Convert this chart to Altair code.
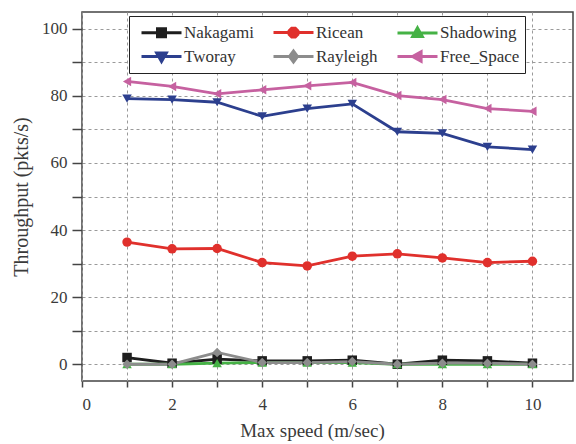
import altair as alt
import pandas as pd

# Throughput of each propagation model versus node maximum speed
speed = [1, 2, 3, 4, 5, 6, 7, 8, 9, 10]
nakagami = [2.0, 0.3, 1.5, 1.0, 1.0, 1.2, 0.0, 1.2, 1.0, 0.3]
ricean = [36.4, 34.4, 34.5, 30.3, 29.3, 32.2, 32.9, 31.7, 30.3, 30.7]
shadowing = [0.0, 0.0, 0.3, 0.5, 0.5, 0.5, 0.0, 0.0, 0.0, 0.0]
tworay = [79.2, 78.9, 78.1, 73.9, 76.2, 77.6, 69.3, 68.8, 64.8, 64.0]
rayleigh = [0.0, 0.0, 3.5, 0.5, 0.5, 0.8, 0.0, 0.3, 0.3, 0.0]
free_space = [84.3, 82.8, 80.6, 81.8, 83.0, 84.0, 80.1, 78.9, 76.2, 75.4]

series = ["Nakagami", "Ricean", "Shadowing", "Tworay", "Rayleigh", "Free_Space"]
values = [nakagami, ricean, shadowing, tworay, rayleigh, free_space]
colors = ["#1e1e1e", "#e0302c", "#45b245", "#2c3f8e", "#8c8c8c", "#c661a0"]
markers = ["square", "circle", "triangle-up", "triangle-down", "diamond", "triangle-left"]

# legend glyphs: a line segment with the series marker at its middle
seg = "M-2,0L2,0"
legend_glyphs = [
    seg + "M-0.4,-0.4L0.4,-0.4L0.4,0.4L-0.4,0.4Z",
    seg + "M-0.44,-0.18L-0.18,-0.44L0.18,-0.44L0.44,-0.18L0.44,0.18L0.18,0.44L-0.18,0.44L-0.44,0.18Z",
    seg + "M0,-0.5L0.48,0.36L-0.48,0.36Z",
    seg + "M0,0.5L0.48,-0.36L-0.48,-0.36Z",
    seg + "M0,-0.54L0.4,0L0,0.54L-0.4,0Z",
    seg + "M-0.5,0L0.36,-0.48L0.36,0.48Z",
]

rows = []
for name, ys in zip(series, values):
    for s, v in zip(speed, ys):
        rows.append({"speed": s, "throughput": v, "model": name})
df = pd.DataFrame(rows)

serif = "Liberation Serif"

x_enc = alt.X(
    "speed:Q",
    scale=alt.Scale(domain=[0, 10.9], nice=False, zero=False),
    axis=alt.Axis(
        title="Max speed (m/sec)",
        values=list(range(0, 11)),
        labelExpr="datum.value % 2 == 0 ? datum.label : ''",
        titleX=230,
        titleY=49,
        titleBaseline="middle",
    ),
)
y_enc = alt.Y(
    "throughput:Q",
    scale=alt.Scale(domain=[-5, 105], nice=False, zero=False),
    axis=alt.Axis(
        title="Throughput (pkts/s)",
        values=list(range(0, 101, 10)),
        labelExpr="datum.value % 20 == 0 ? datum.label : ''",
        titleX=-61,
        titleBaseline="middle",
        titleFontSize=20,
    ),
)

legend_opts = dict(
    orient="none",
    legendX=47,
    legendY=4,
    direction="horizontal",
    columns=3,
    padding=5,
    strokeColor="#222222",
    fillColor="white",
    labelFont=serif,
    labelFontSize=17,
    labelColor="#333333",
    symbolSize=400,
    symbolOffset=16,
    labelOffset=11,
    symbolStrokeWidth=3,
    symbolOpacity=1,
    columnPadding=12,
    rowPadding=2,
    title=None,
)

model_scale = alt.Scale(domain=series, range=colors)
stroke_enc = alt.Stroke("model:N", scale=model_scale, legend=alt.Legend(**legend_opts))
fill_enc = alt.Fill("model:N", scale=model_scale, legend=alt.Legend(**legend_opts))
shape_enc = alt.Shape(
    "model:N",
    scale=alt.Scale(domain=series, range=legend_glyphs),
    legend=alt.Legend(**legend_opts),
)

base = alt.Chart(df)

lines = base.mark_line(strokeWidth=2.8).encode(x=x_enc, y=y_enc, stroke=stroke_enc)

point_layers = []
for name, shape in zip(series, markers):
    point_layers.append(
        base.transform_filter(alt.datum.model == name)
        .mark_point(filled=True, shape=shape, size=90, opacity=1)
        .encode(x=x_enc, y=y_enc, fill=fill_enc)
    )

# layer carrying the legend glyphs; its own marks have zero size
legend_layer = base.mark_point(filled=True, size=0).encode(
    x=x_enc, y=y_enc, fill=fill_enc, stroke=stroke_enc, shape=shape_enc
)

chart = (
    alt.layer(lines, *point_layers, legend_layer)
    .properties(
        width=491,
        height=369,
        padding={"left": 82, "top": 12, "right": 3, "bottom": 63},
        autosize="none",
        background="white",
    )
    .configure(font=serif)
    .configure_view(stroke="#444444", strokeWidth=1.5)
    .configure_axis(
        domain=False,
        grid=True,
        gridColor="#9a9a9a",
        gridDash=[3, 3],
        gridWidth=1,
        tickColor="#444444",
        tickWidth=1.5,
        labelFont=serif,
        labelFontSize=17,
        labelColor="#3a3a3a",
        titleFont=serif,
        titleFontSize=19,
        titleFontWeight="normal",
        titleColor="#3a3a3a",
    )
    .configure_axisX(tickSize=6, labelPadding=9)
    .configure_axisY(tickSize=10, labelPadding=5)
    .configure_legend(labelFont=serif, labelFontSize=17)
)

chart.save("out.html", embed_options={"renderer": "svg", "actions": False})
